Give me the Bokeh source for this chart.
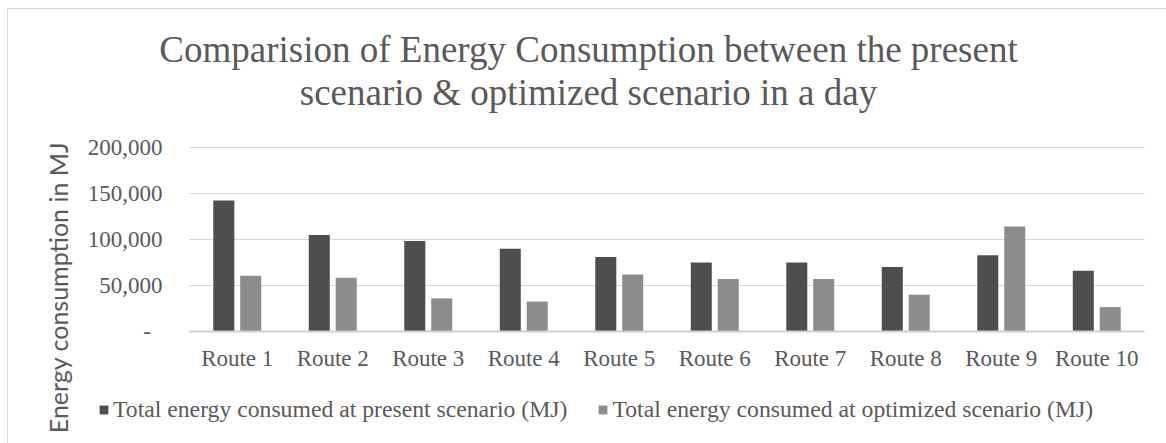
import math
from bokeh.plotting import figure
from bokeh.models import (ColumnDataSource, FixedTicker, Label, Legend,
                          LegendItem, Range1d)
from bokeh.transform import dodge
from bokeh.embed import file_html
from bokeh.resources import INLINE

# ---- data ----
routes = ["Route 1", "Route 2", "Route 3", "Route 4", "Route 5",
          "Route 6", "Route 7", "Route 8", "Route 9", "Route 10"]
present = [142500, 105000, 98500, 90000, 81000, 75000, 75000, 70000, 83000, 66000]
optimized = [60500, 58500, 36000, 32500, 62000, 57000, 57000, 40000, 114000, 26500]
y_ticks = [0, 50000, 100000, 150000, 200000]
y_tick_labels = ["-\u00a0\u00a0", "50,000", "100,000", "150,000", "200,000"]
series_names = ["Total energy consumed at present scenario (MJ)",
                "Total energy consumed at optimized scenario (MJ)"]
title_lines = ["Comparision of Energy Consumption between the present",
               "scenario & optimized scenario in a day"]
y_title = "Energy consumption in MJ"

TXT = "#595959"
SERIF = "Liberation Serif"
GRID = "#d9d9d9"
W, H = 1166, 443
PLOT_L, PLOT_R, PLOT_T, PLOT_B = 189, 1144, 147, 331   # plot area in pixels

n = len(routes)
idx = list(range(n))
ymax = y_ticks[-1]

# ranges chosen so the frame fills the canvas and the plot area sits at PLOT_*
cat_px = (PLOT_R - PLOT_L) / n
x_start = -0.5 - PLOT_L / cat_px
x_end = n - 0.5 + (W - PLOT_R) / cat_px
unit_px = (PLOT_B - PLOT_T) / ymax
y_start = -(H - PLOT_B) / unit_px
y_end = ymax + PLOT_T / unit_px

src = ColumnDataSource(dict(idx=idx, route=routes, present=present,
                            optimized=optimized))

p = figure(x_range=Range1d(x_start, x_end), y_range=Range1d(y_start, y_end),
           width=W, height=H, output_backend="svg", toolbar_location=None,
           min_border=0, min_border_left=0, min_border_right=0,
           min_border_top=0, min_border_bottom=0)
p.border_fill_color = None
p.background_fill_color = None
p.outline_line_color = None
p.styles = {"background": (
    f"linear-gradient({GRID},{GRID}) 7px 8px / 1px 100% no-repeat, "
    f"linear-gradient({GRID},{GRID}) 7px 8px / 100% 1px no-repeat, white")}
p.xgrid.grid_line_color = None
p.ygrid.grid_line_color = None

# horizontal gridlines across the category span
p.segment(x0=[-0.5] * len(y_ticks), x1=[n - 0.5] * len(y_ticks),
          y0=y_ticks, y1=y_ticks, line_color=GRID, line_width=1, level="underlay")

r1 = p.vbar(x=dodge("idx", -0.141), top="present", width=0.22,
            source=src, fill_color="#4e4e4e", line_color=None)
r2 = p.vbar(x=dodge("idx", 0.141), top="optimized", width=0.22,
            source=src, fill_color="#8c8c8c", line_color=None)

# axes drawn at fixed data locations inside the frame
xa = p.xaxis[0]
xa.fixed_location = 0
xa.bounds = (-0.5, n - 0.5)
xa.ticker = FixedTicker(ticks=idx)
xa.major_label_overrides = {i: r for i, r in zip(idx, routes)}
xa.axis_line_color = "#d0d0d0"
xa.axis_line_width = 2
xa.major_tick_line_color = None
xa.minor_tick_line_color = None
xa.major_tick_out = 0
xa.major_label_standoff = 14
xa.major_label_text_font = SERIF
xa.major_label_text_font_size = "23px"
xa.major_label_text_color = TXT

ya = p.yaxis[0]
ya.fixed_location = -0.5
ya.bounds = (0, ymax)
ya.ticker = FixedTicker(ticks=y_ticks)
ya.major_label_overrides = {t: l for t, l in zip(y_ticks, y_tick_labels)}
ya.axis_line_color = None
ya.major_tick_line_color = None
ya.minor_tick_line_color = None
ya.major_tick_out = 0
ya.major_label_standoff = 27
ya.major_label_text_font = SERIF
ya.major_label_text_font_size = "23px"
ya.major_label_text_color = TXT

# screen positions (frame == canvas): y measured from the bottom
def sy(page_y):
    return H - page_y

for line, base in zip(title_lines, [49, 92]):
    p.add_layout(Label(x=588, y=sy(base), x_units="screen", y_units="screen",
                       text=line, text_align="center", text_baseline="alphabetic",
                       text_font=SERIF, text_font_size="37px", text_color=TXT))

p.add_layout(Label(x=57, y=sy(287), x_units="screen", y_units="screen",
                   text=y_title, angle=math.pi / 2, text_align="center",
                   text_baseline="middle", text_font="Lato",
                   text_font_size="25px", text_color=TXT))

legend = Legend(items=[LegendItem(label=series_names[0], renderers=[r1]),
                       LegendItem(label=series_names[1], renderers=[r2])],
                location=(98, sy(423)), orientation="horizontal",
                glyph_width=11, glyph_height=11, label_standoff=4, spacing=30,
                label_height=26, padding=0, margin=0, border_line_color=None,
                background_fill_alpha=0, label_text_font=SERIF,
                label_text_font_size="23.7px", label_text_color=TXT)
p.add_layout(legend)

open("out.html", "w").write(file_html(p, INLINE))
